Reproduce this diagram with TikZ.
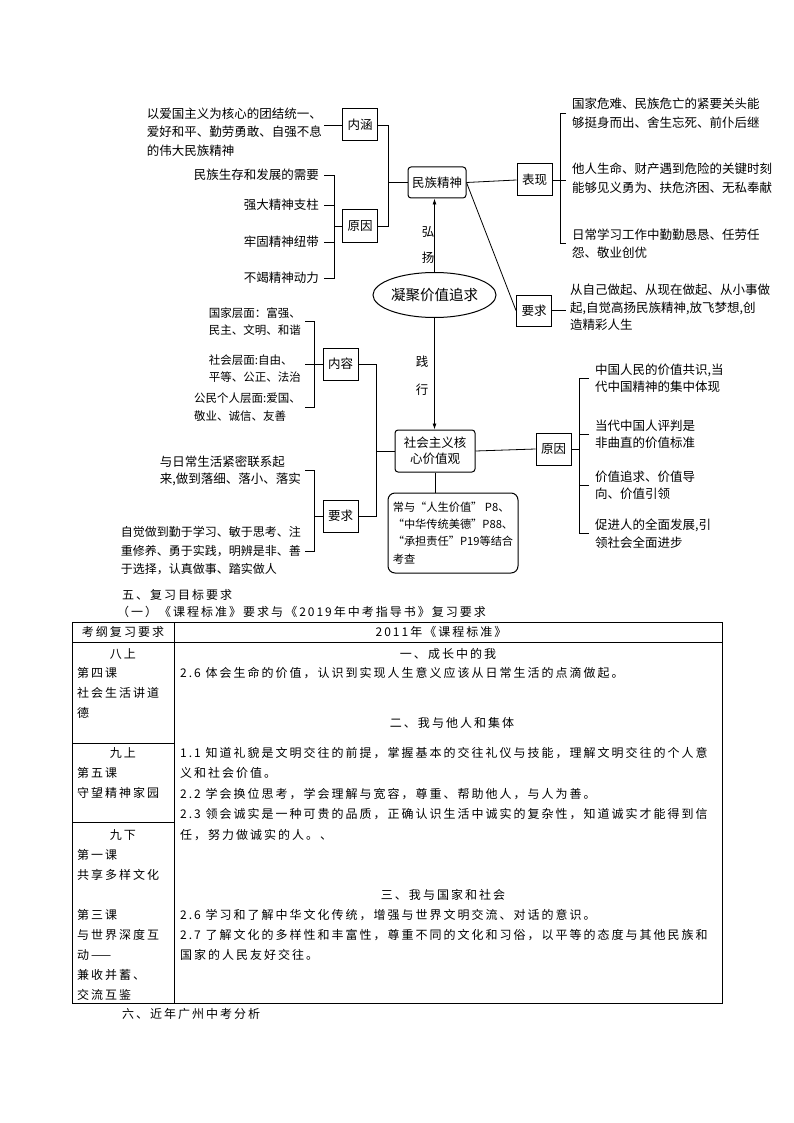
\documentclass[tikz,border=0pt]{standalone}
\usepackage{fontspec}
\setmainfont{Noto Sans CJK SC}
\newfontfamily\tabf[LetterSpace=16.7]{Noto Sans CJK SC}
\usetikzlibrary{shapes.geometric,arrows.meta}
\newcommand\fsz[2]{\fontsize{#1}{#2}\selectfont}
\begin{document}
\begin{tikzpicture}[x=1pt,y=-1pt,
  ln/.style={line width=0.8pt},
  arr/.style={line width=0.8pt,-{Latex[length=6pt,width=4pt]}},
  box/.style={draw,line width=1pt,inner sep=0pt,minimum width=35pt,minimum height=32pt,font=\fsz{12.5}{15}},
  rbox/.style={box,rounded corners=3pt},
  txt/.style={inner xsep=4pt,inner ysep=0pt,align=left,font=\fsz{12.5}{18.5}},
  lab/.style={inner sep=0pt,font=\fsz{12.5}{15}},
  tb/.style={inner sep=0pt,align=left,font=\tabf\fsz{12}{20}},
  tl/.style={line width=0.9pt}
]
\useasboundingbox (0,0) rectangle (794,1123);
\fill[white] (0,0) rectangle (794,1123);

% spine coordinates
\coordinate (s1) at (334,0);
\coordinate (s2) at (560,0);
\coordinate (s3) at (388,0);
\coordinate (s4) at (314,0);
\coordinate (s5) at (376,0);
\coordinate (s6) at (579,0);

% ---------- upper part ----------
\node[box] (nh) at (360,125) {内涵};
\node[box] (yy1) at (360,226) {原因};
\node[rbox,minimum width=58pt,minimum height=31pt] (mz) at (437,182.5) {民族精神};
\node[box] (bx) at (534.5,180) {表现};
\node[box,minimum height=31pt] (yq1) at (534,310.5) {要求};
\node[draw,ellipse,line width=1pt,minimum width=101pt,minimum height=45pt,inner sep=0pt,font=\fsz{14.5}{17}] (el) at (434.5,295) {凝聚价值追求};

\node[txt,anchor=east,inner xsep=2pt] (t1) at (324,132) {以爱国主义为核心的团结统一、\\爱好和平、勤劳勇敢、自强不息\\的伟大民族精神};
\node[txt,anchor=east,inner xsep=5pt] (r1) at (324,175) {民族生存和发展的需要};
\node[txt,anchor=east,inner xsep=5pt] (r2) at (324,205) {强大精神支柱};
\node[txt,anchor=east,inner xsep=5pt] (r3) at (324,242) {牢固精神纽带};
\node[txt,anchor=east,inner xsep=5pt] (r4) at (324,278) {不竭精神动力};

\node[txt,anchor=west,inner xsep=6pt,font=\fsz{12.5}{19}] (b1) at (566,113.5) {国家危难、民族危亡的紧要关头能\\够挺身而出、舍生忘死、前仆后继};
\node[txt,anchor=west,inner xsep=6pt,font=\fsz{12.5}{19}] (b2) at (566,178.5) {他人生命、财产遇到危险的关键时刻\\能够见义勇为、扶危济困、无私奉献};
\node[txt,anchor=west,inner xsep=6pt,font=\fsz{12.5}{17.5}] (b3) at (566,243.5) {日常学习工作中勤勤恳恳、任劳任\\怨、敬业创优};
\node[txt,anchor=west,inner xsep=4pt,font=\fsz{12.5}{17.5}] (yq1t) at (566,307.5) {从自己做起、从现在做起、从小事做\\起,自觉高扬民族精神,放飞梦想,创\\造精彩人生};

\draw[ln] (nh.west) -- (nh.west -| t1.east);
\draw[ln] (nh.east) -- (nh.east -| s3) -- (yy1.east -| s3) -- (yy1.east);
\draw[ln] (mz.west) -- (mz.west -| s3);
\draw[ln] (r1.east) -- (r1.east -| s1) -- (r4.east -| s1) -- (r4.east);
\draw[ln] (r2.east) -- (r2.east -| s1);
\draw[ln] (r3.east) -- (r3.east -| s1);
\draw[ln] (yy1.west) -- (yy1.west -| s1);
\draw[ln] (mz.east) -- (bx.west);
\draw[ln] (mz.east) -- (yq1.west);
\draw[ln] (b1.west) -- (b1.west -| s2) -- (b3.west -| s2) -- (b3.west);
\draw[ln] (bx.east) -- (bx.east -| b2.west);
\draw[ln] (yq1.east) -- (yq1.east -| yq1t.west);
\draw[arr] (el.north) -- (el.north |- mz.south);
\node[lab] (hong) at (428,232) {弘};
\node[lab] (yang) at (428,258) {扬};

% ---------- lower part ----------
\node[rbox,minimum width=80pt,minimum height=42pt,align=center,font=\fsz{12.5}{16}] (sh) at (435,451) {社会主义核\\心价值观};
\node[box] (nr) at (340.5,364) {内容};
\node[box] (yq2) at (340.5,516) {要求};
\node[box] (yy2) at (553.5,449) {原因};
\node[draw,line width=1pt,rounded corners=7pt,minimum width=130pt,minimum height=80pt,inner sep=0pt,align=left,font=\fsz{11.2}{17.3}] (nt) at (453,533) {常与“人生价值” P8、\\“中华传统美德”P88、\\“承担责任”P19等结合\\考查};

\draw[arr] (el.south) -- (el.south |- sh.north);
\node[lab] (jian) at (422,362) {践};
\node[lab] (xing) at (422,390) {行};

\node[txt,anchor=east,font=\fsz{11.5}{17.5}] (c1) at (305,321.5) {国家层面：富强、\\民主、文明、和谐};
\node[txt,anchor=east,font=\fsz{11.5}{17.5}] (c2) at (305,368.5) {社会层面:自由、\\平等、公正、法治};
\node[txt,anchor=east,font=\fsz{11.5}{17.5}] (c3) at (305,407) {公民个人层面:爱国、\\敬业、诚信、友善};
\node[txt,anchor=east,font=\fsz{12.5}{17}] (q1) at (305,470.5) {与日常生活紧密联系起\\来,做到落细、落小、落实};
\node[txt,anchor=east,font=\fsz{12}{18.5}] (q2) at (305,551) {自觉做到勤于学习、敏于思考、注\\重修养、勇于实践，明辨是非、善\\于选择，认真做事、踏实做人};

\node[txt,anchor=west,inner xsep=6pt,font=\fsz{12.5}{17.5}] (y1) at (589,378) {中国人民的价值共识,当\\代中国精神的集中体现};
\node[txt,anchor=west,inner xsep=6pt,font=\fsz{12.5}{17.5}] (y2) at (589,434.5) {当代中国人评判是\\非曲直的价值标准};
\node[txt,anchor=west,inner xsep=6pt,font=\fsz{12.5}{17.5}] (y3) at (589,485.5) {价值追求、价值导\\向、价值引领};
\node[txt,anchor=west,inner xsep=6pt,font=\fsz{12.5}{17.5}] (y4) at (589,533.5) {促进人的全面发展,引\\领社会全面进步};

\draw[ln] (nr.east) -- (nr.east -| s5) -- (yq2.east -| s5) -- (yq2.east);
\draw[ln] (sh.west) -- (sh.west -| s5);
\draw[ln] (sh.east) -- (yy2.west);
\draw[ln] (sh.south) -- (sh.south |- nt.north);
\draw[ln] (c1.east) -- (c1.east -| s4) -- (c3.east -| s4) -- (c3.east);
\draw[ln] (nr.west) -- (nr.west -| c2.east);
\draw[ln] (q1.east) -- (q1.east -| s4) -- (q2.east -| s4) -- (q2.east);
\draw[ln] (yq2.west) -- (yq2.west -| s4);
\draw[ln] (y1.west) -- (y1.west -| s6) -- (y4.west -| s6) -- (y4.west);
\draw[ln] (y2.west) -- (y2.west -| s6);
\draw[ln] (y3.west) -- (y3.west -| s6);
\draw[ln] (yy2.east) -- (yy2.east -| s6);

% ---------- table section ----------
\node[tb,anchor=west] (h5) at (122,595) {五、复习目标要求};
\node[tb,anchor=west] (h51) at (117,612) {（一）《课程标准》要求与《2019年中考指导书》复习要求};
\draw[tl] (72,622) rectangle (722,1003);
\draw[tl] (72,642) -- (722,642);
\draw[tl] (174,622) -- (174,1003);
\draw[tl] (72,743) -- (174,743);
\draw[tl] (72,822) -- (174,822);
\node[tb] (th1) at (123,632) {考纲复习要求};
\node[tb] (th2) at (441,632) {2011年《课程标准》};

\node[tb] (l1h) at (123,654) {八上};
\node[tb,anchor=west] (l1) at (77,692.5) {第四课\\社会生活讲道\\德};
\node[tb] (l2h) at (123,753) {九上};
\node[tb,anchor=west] (l2) at (77,783) {第五课\\守望精神家园};
\node[tb] (l3h) at (123,835) {九下};
\node[tb,anchor=west] (l3) at (77,924.5) {第一课\\共享多样文化\\[20pt]第三课\\与世界深度互\\动——\\兼收并蓄、\\交流互鉴};

\node[tb] (rh1) at (448,654) {一、成长中的我};
\node[tb,anchor=west] (rp1) at (180,673) {2.6 体会生命的价值，认识到实现人生意义应该从日常生活的点滴做起。};
\node[tb] (rh2) at (452,723) {二、我与他人和集体};
\node[tb,anchor=west,font=\tabf\fsz{12}{20.5}] (rp2) at (180,794) {1.1 知道礼貌是文明交往的前提，掌握基本的交往礼仪与技能，理解文明交往的个人意\\义和社会价值。\\2.2 学会换位思考，学会理解与宽容，尊重、帮助他人，与人为善。\\2.3 领会诚实是一种可贵的品质，正确认识生活中诚实的复杂性，知道诚实才能得到信\\任，努力做诚实的人。、};
\node[tb] (rh3) at (443,895) {三、我与国家和社会};
\node[tb,anchor=west] (rp3) at (180,935) {2.6 学习和了解中华文化传统，增强与世界文明交流、对话的意识。\\2.7 了解文化的多样性和丰富性，尊重不同的文化和习俗，以平等的态度与其他民族和\\国家的人民友好交往。};

\node[tb,anchor=west] (h6) at (122,1014) {六、近年广州中考分析};
\end{tikzpicture}
\end{document}
